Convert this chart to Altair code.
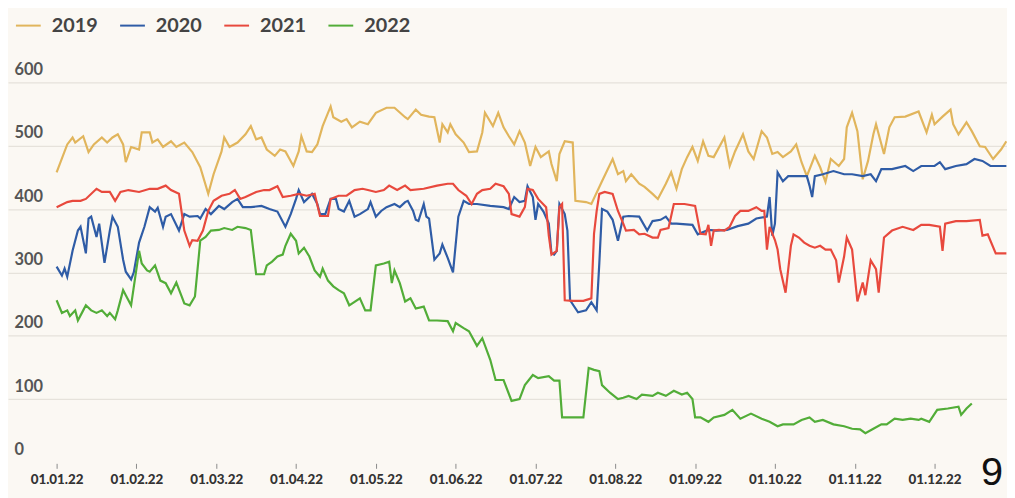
import json
import altair as alt
import pandas as pd

years = ["2019", "2020", "2021", "2022"]
colors = ["#e1b55c", "#2f5ca6", "#e8493d", "#52ad38"]
tick_labels = ["01.01.22", "01.02.22", "01.03.22", "01.04.22", "01.05.22", "01.06.22",
               "01.07.22", "01.08.22", "01.09.22", "01.10.22", "01.11.22", "01.12.22"]
tick_days = [0, 30, 60, 90, 120, 150, 180, 210, 240, 270, 300, 330]
y_ticks = [0, 100, 200, 300, 400, 500, 600]
page_label = ["9"]

day_2019 = [0,4,6,7,10,12,14,17,19,21,23,25,26,28,31,32,35,36,38,40,43,45,48,51,54,57,59,62,63,65,
            68,71,73,75,77,79,82,84,86,89,91,92,94,96,98,100,103,104,107,109,111,114,117,120,124,127,131,132,135,137,
            140,142,144,145,147,148,150,153,155,158,160,161,164,166,168,170,172,174,176,178,180,182,185,186,188,189,191,194,195,199,
            201,205,209,211,213,214,216,219,221,224,226,229,231,233,235,237,239,241,243,245,247,251,253,255,258,260,262,265,267,269,
            271,273,276,278,280,282,285,287,289,291,294,296,297,299,301,303,305,307,308,311,313,315,319,324,327,329,330,333,336,337,
            339,342,344,347,349,352,355,357]
val_2019 = [458,502,513,505,515,490,502,513,505,513,518,502,474,498,494,521,521,505,510,498,507,498,505,490,466,424,455,491,513,498,
            505,518,531,510,513,494,484,494,491,468,491,515,491,490,502,531,562,545,538,542,529,538,534,552,560,560,545,542,557,549,
            546,545,505,534,521,534,518,505,490,491,521,552,531,552,529,515,502,523,505,468,498,482,491,471,444,487,507,505,413,411,
            408,444,479,455,460,444,455,440,435,424,416,440,458,432,463,482,498,476,507,484,482,513,468,491,518,491,479,523,513,487,
            490,482,491,502,474,452,484,466,443,479,468,479,529,552,523,447,476,518,534,487,529,545,546,554,521,549,534,546,557,534,
            518,537,523,499,498,479,494,507]

day_2020 = [0,2,3,4,6,8,9,11,12,13,15,16,18,20,21,23,25,26,28,29,31,33,35,37,38,40,41,43,46,48,
            50,53,54,56,58,61,63,66,68,70,73,77,80,83,86,88,90,91,93,95,96,98,99,101,103,105,106,108,110,112,
            114,117,118,120,122,124,127,129,131,132,134,135,136,138,139,140,142,144,145,147,149,151,153,155,158,163,168,170,172,174,
            176,177,179,180,181,183,185,186,187,188,189,191,192,193,196,199,201,203,204,205,207,209,211,213,215,219,222,224,227,229,
            231,233,239,241,245,248,252,256,260,263,267,268,269,270,271,273,275,278,282,283,284,285,288,292,296,299,303,306,308,310,
            314,319,322,325,330,332,334,338,342,345,348,351,357]
val_2020 = [309,295,306,293,334,366,372,330,385,388,356,377,315,366,388,372,320,301,289,300,347,372,403,396,402,372,388,392,366,392,
            388,389,385,400,392,405,400,411,416,403,403,405,400,396,372,392,416,430,411,419,424,408,392,392,416,416,400,396,413,388,
            392,400,411,388,397,403,408,403,411,413,397,383,381,408,388,385,320,330,344,323,300,388,413,408,408,405,403,400,419,411,
            413,436,419,383,408,396,377,330,328,334,408,392,366,256,237,240,253,240,315,400,396,383,350,388,389,388,366,381,383,388,
            377,377,375,360,367,366,367,373,377,385,388,419,358,377,458,444,452,452,452,437,419,452,455,460,455,455,452,455,444,463,
            463,468,460,468,468,474,463,468,471,479,476,468,468]

day_2021 = [0,4,6,9,11,15,17,20,22,24,27,31,35,38,41,43,46,48,50,51,53,55,57,59,62,65,66,67,69,71,
            75,78,80,83,85,88,91,94,97,99,102,103,106,109,112,115,117,120,123,125,128,131,133,138,143,147,149,151,154,156,
            158,160,163,165,168,170,171,174,176,177,179,181,184,185,186,188,189,190,191,194,198,201,202,203,204,206,209,211,213,214,
            217,219,221,224,226,227,230,232,236,240,242,244,245,246,247,249,251,253,255,257,260,263,265,266,267,268,270,271,272,274,
            276,277,279,281,283,285,287,289,291,293,294,296,297,299,301,303,304,306,308,309,311,314,318,322,325,328,332,333,334,338,
            342,347,348,350,353,357]
val_2021 = [403,411,413,413,416,432,427,427,413,427,430,427,432,432,437,430,424,366,342,351,350,366,397,413,421,424,427,430,416,419,
            427,430,430,436,419,421,424,421,424,389,389,416,421,421,430,432,430,427,430,437,430,437,430,432,437,440,440,430,421,408,
            424,430,432,440,436,424,392,388,403,432,430,416,403,358,328,334,403,408,256,255,255,259,361,397,424,427,424,397,377,366,
            367,360,361,355,355,367,370,408,408,405,361,360,375,342,366,367,366,372,389,397,397,403,397,397,336,372,351,336,305,268,
            342,360,355,347,342,339,342,336,336,319,284,325,355,336,254,284,264,319,305,268,355,366,372,367,375,375,372,334,377,381,
            381,383,358,360,330,330]

day_2022 = [0,2,4,5,7,8,10,11,13,15,17,19,20,22,23,25,26,28,31,32,34,35,37,39,41,43,45,47,48,50,
            52,54,56,58,61,63,66,68,71,73,75,78,79,81,83,85,86,88,90,91,93,95,97,99,100,102,104,106,108,110,
            114,116,118,120,123,125,126,127,129,131,133,135,138,140,143,147,149,150,153,155,158,160,163,165,168,171,174,176,179,181,
            185,187,189,190,194,198,200,202,204,205,208,211,213,215,218,220,224,226,229,232,235,237,239,240,242,245,247,251,254,257,
            261,265,268,271,273,277,280,283,285,288,292,296,299,302,304,307,310,312,315,318,321,324,325,328,331,335,339,340,342,344]
val_2022 = [256,236,240,231,240,224,240,248,240,236,240,231,236,226,240,272,264,248,334,314,303,301,311,287,283,267,284,262,251,248,
            262,350,356,366,367,370,367,372,370,367,297,297,311,317,325,328,342,361,350,330,339,325,303,293,306,287,278,272,267,248,
            259,240,240,311,314,317,283,303,283,254,259,243,246,224,224,223,207,220,212,207,184,196,162,130,130,97,100,122,138,133,
            136,129,129,71,71,71,149,146,144,122,110,100,102,105,100,107,105,110,105,113,107,110,100,71,71,64,71,75,83,69,
            77,69,64,57,60,60,67,71,64,67,60,57,53,52,46,53,60,60,69,67,69,67,69,64,83,85,88,75,85,93]

series = [("2019", day_2019, val_2019), ("2020", day_2020, val_2020),
          ("2021", day_2021, val_2021), ("2022", day_2022, val_2022)]
frames = []
for yr, d, v in series:
    frames.append(pd.DataFrame({"year": yr, "day": d, "value": v, "i": list(range(len(d)))}))
df = pd.concat(frames, ignore_index=True)

label_expr = json.dumps(tick_labels) + "[round(datum.value / 30)]"

x_enc = alt.X(
    "day:Q",
    scale=alt.Scale(domain=[-18.27, 357.23], nice=False, zero=False),
    axis=alt.Axis(values=tick_days, labelExpr=label_expr, title=None, grid=False, domain=False,
                  ticks=True, tickSize=5, tickColor="#8a8a8a", tickWidth=1, offset=1,
                  labelPadding=4, labelFont="Lato", labelFontSize=13.5, labelFontWeight=900,
                  labelColor="#333333", labelFlush=False, labelOverlap=False),
)
y_enc = alt.Y(
    "value:Q",
    scale=alt.Scale(domain=[0, 600], nice=False),
    axis=alt.Axis(values=y_ticks, title=None, domain=False, ticks=False, tickSize=0,
                  labelAlign="left", labelPadding=-6, labelBaseline="alphabetic", labelOffset=-8,
                  labelFont="Lato", labelFontSize=16.5, labelFontWeight="bold", labelColor="#555555",
                  gridColor=alt.condition("datum.value === 0", alt.value("transparent"), alt.value("#e6e2db")),
                  gridWidth=1.2, labelFlush=False),
)
color_enc = alt.Color(
    "year:N",
    scale=alt.Scale(domain=years, range=colors),
    legend=alt.Legend(orient="none", legendX=7, legendY=-71, direction="horizontal", columns=4,
                      title=None, symbolType="stroke", symbolSize=625, symbolStrokeWidth=2,
                      labelFont="Lato", labelFontSize=20, labelFontWeight="bold", labelColor="#444444",
                      labelOffset=10, columnPadding=18, padding=0),
)

lines = alt.Chart(df).mark_line(strokeWidth=2.2, clip=True).encode(
    x=x_enc, y=y_enc, color=color_enc, order="i:Q"
)

page = alt.Chart(pd.DataFrame({"t": page_label})).mark_text(
    font="Liberation Sans", fontSize=40, align="center", baseline="alphabetic", color="#111111"
).encode(text="t:N", x=alt.value(992), y=alt.value(406))

chart = alt.layer(lines, page).properties(
    width=1007, height=383,
    padding={"left": 0, "top": 73, "right": 0, "bottom": 42},
    autosize=alt.AutoSizeParams(type="none"),
    background="#fbf8f3",
).configure_view(stroke=None)

chart.save("out.html", embed_options={"renderer": "svg", "actions": False})
